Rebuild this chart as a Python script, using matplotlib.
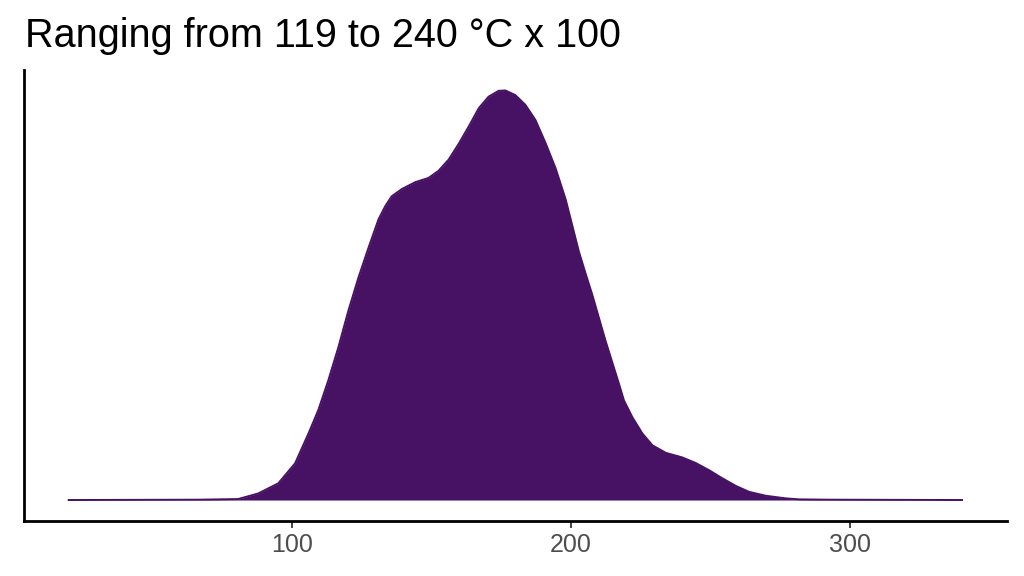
import matplotlib
matplotlib.use("Agg")
import matplotlib.pyplot as plt
import numpy as np

plt.rcParams['font.family'] = ['Liberation Sans', 'DejaVu Sans']

# density curve (x in degC, density x 1e-3)
temp = [20.0, 66.4, 80.7, 87.9, 95.1, 101.1, 105.9, 109.4, 113.0, 116.6,
        120.2, 123.8, 127.4, 131.0, 133.4, 135.7, 139.3, 144.1, 148.9, 152.5,
        156.1, 159.7, 163.3, 166.9, 170.4, 174.0, 176.4, 180.0, 183.6, 187.2,
        190.8, 194.4, 198.0, 200.3, 202.7, 205.2, 207.5, 212.3, 217.1, 218.9,
        221.9, 225.5, 229.1, 233.9, 239.8, 244.6, 249.4, 254.2, 259.0, 263.7,
        269.7, 276.9, 281.7, 292.5, 340.0]
dens = [0.00, 0.01, 0.03, 0.20, 0.51, 1.12, 2.03, 2.74, 3.65, 4.66,
        5.78, 6.79, 7.70, 8.57, 8.97, 9.27, 9.49, 9.70, 9.83, 10.05,
        10.39, 10.87, 11.40, 11.96, 12.31, 12.49, 12.50, 12.36, 12.06, 11.60,
        10.90, 10.13, 9.18, 8.41, 7.60, 6.90, 6.28, 4.86, 3.55, 3.04,
        2.53, 2.03, 1.67, 1.44, 1.30, 1.13, 0.91, 0.66, 0.43, 0.25,
        0.13, 0.05, 0.02, 0.01, 0.00]
xticks = [100, 200, 300]
title = "Ranging from 119 to 240 \u00b0C x 100"

x = np.array(temp)
y = np.array(dens) / 1000.0
fill_col = '#471164'

fig = plt.figure(figsize=(10.24, 5.76), dpi=100)
ax = fig.add_axes([24 / 1024, 1 - 520.5 / 576, (1006.7 - 24) / 1024, (520.5 - 70) / 576])

ax.fill_between(x, 0, y, color=fill_col, linewidth=0)
ax.plot(x, y, color=fill_col, linewidth=1.4, solid_joinstyle='round')

span = x.max() - x.min()
ax.set_xlim(x.min() - 0.05 * span, x.max() + 0.05 * span)
ax.set_ylim(-0.05 * y.max(), 1.05 * y.max())

ax.set_xticks(xticks)
ax.set_yticks([])
ax.tick_params(axis='x', length=5, width=1.3, color='#333333',
               labelsize=18, labelcolor='#4D4D4D', pad=4)
for side in ['top', 'right']:
    ax.spines[side].set_visible(False)
for side in ['left', 'bottom']:
    ax.spines[side].set_linewidth(2.0)
    ax.spines[side].set_color('black')

fig.text(25 / 1024, 1 - 47 / 576, title, fontsize=28.5, ha='left', va='baseline')

fig.savefig('out.png', dpi=100)
